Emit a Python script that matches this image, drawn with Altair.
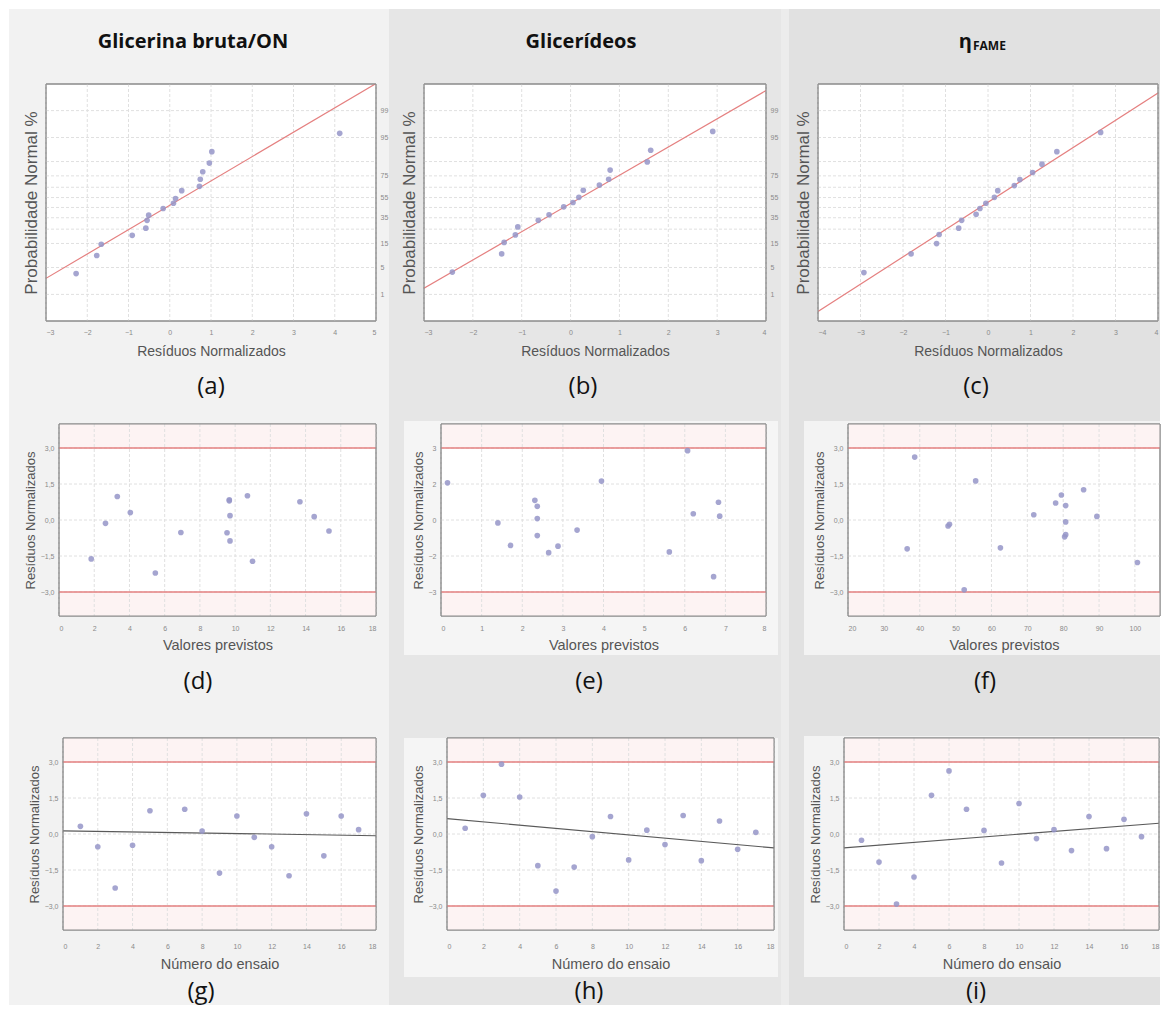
import altair as alt
import pandas as pd
from statistics import NormalDist

# ---------------- data ----------------
# Row 1: normal probability plots (residual, normal probability %)
a_res = [-2.27, -1.77, -1.66, -0.91, -0.58, -0.55, -0.51, -0.16, 0.09, 0.14, 0.29, 0.72, 0.74, 0.80, 0.96, 1.02, 4.12]
a_prob = [3.6, 9.0, 14.5, 20.3, 25.8, 32.6, 37.4, 44.0, 49.2, 54.0, 61.8, 65.9, 72.2, 78.2, 84.1, 90.1, 96.0]
a_line_res = [-3, 5]
a_line_prob = [2.74, 99.87]

b_res = [-2.42, -1.41, -1.36, -1.13, -1.08, -0.66, -0.44, -0.14, 0.05, 0.17, 0.26, 0.59, 0.78, 0.81, 1.57, 1.64, 2.91]
b_prob = [3.9, 9.7, 15.6, 20.6, 26.8, 32.6, 37.8, 45.6, 50.0, 55.2, 62.2, 67.0, 72.2, 79.4, 84.8, 90.7, 96.4]
b_line_res = [-3, 4]
b_line_prob = [1.5, 99.77]

c_res = [-2.92, -1.81, -1.21, -1.15, -0.69, -0.62, -0.28, -0.19, -0.05, 0.15, 0.23, 0.62, 0.75, 1.05, 1.27, 1.62, 2.65]
c_prob = [3.8, 9.7, 14.9, 20.9, 25.8, 32.6, 38.2, 44.0, 49.2, 55.2, 61.8, 66.6, 71.9, 77.6, 83.4, 90.1, 96.2]
c_line_res = [-4, 4]
c_line_prob = [0.29, 99.72]

# Row 2: residuals vs predicted values
d_pred = [1.83, 2.64, 3.31, 4.05, 5.47, 6.92, 9.67, 9.67, 9.71, 9.54, 9.71, 10.70, 10.99, 13.68, 14.49, 15.33]
d_res = [-1.62, -0.14, 0.98, 0.31, -2.21, -0.52, 0.84, 0.80, 0.18, -0.53, -0.87, 1.01, -1.72, 0.76, 0.14, -0.46]

e_pred = [0.16, 1.40, 1.71, 2.31, 2.37, 2.37, 2.37, 2.65, 2.88, 3.35, 3.95, 5.62, 6.07, 6.21, 6.71, 6.83, 6.86]
e_res = [1.55, -0.12, -1.06, 0.82, 0.57, 0.06, -0.65, -1.36, -1.09, -0.42, 1.62, -1.33, 2.89, 0.26, -2.36, 0.74, 0.16]

f_pred = [36.5, 38.6, 47.9, 48.3, 52.4, 55.6, 62.5, 71.8, 77.9, 79.5, 80.7, 80.7, 80.7, 80.4, 85.7, 89.4, 100.7]
f_res = [-1.20, 2.62, -0.25, -0.18, -2.91, 1.63, -1.16, 0.22, 0.71, 1.04, 0.60, -0.08, -0.61, -0.70, 1.26, 0.15, -1.77]

# Row 3: residuals vs run number
g_run = [1, 2, 3, 4, 5, 7, 8, 9, 10, 11, 12, 13, 14, 15, 16, 17]
g_res = [0.32, -0.53, -2.25, -0.47, 0.97, 1.03, 0.12, -1.63, 0.75, -0.14, -0.53, -1.74, 0.84, -0.91, 0.75, 0.18]
g_trend_run = [0, 18]
g_trend = [0.13, -0.07]

h_run = [1, 2, 3, 4, 5, 6, 7, 8, 9, 10, 11, 12, 13, 14, 15, 16, 17]
h_res = [0.24, 1.61, 2.91, 1.54, -1.32, -2.38, -1.38, -0.11, 0.73, -1.08, 0.16, -0.44, 0.77, -1.11, 0.54, -0.64, 0.07]
h_trend_run = [0, 18]
h_trend = [0.64, -0.58]

i_run = [1, 2, 3, 4, 5, 6, 7, 8, 9, 10, 11, 12, 13, 14, 15, 16, 17]
i_res = [-0.26, -1.17, -2.92, -1.79, 1.61, 2.63, 1.03, 0.15, -1.21, 1.27, -0.19, 0.18, -0.69, 0.73, -0.61, 0.61, -0.11]
i_trend_run = [0, 18]
i_trend = [-0.58, 0.45]

col_titles = ["Glicerina bruta/ON", "Glicerídeos"]
panel_labels = ["(a)", "(b)", "(c)", "(d)", "(e)", "(f)", "(g)", "(h)", "(i)"]
prob_label_pcts = [1, 5, 15, 35, 55, 75, 95, 99]
prob_grid_pcts = [1, 5, 15, 25, 35, 45, 55, 65, 75, 85, 95, 99]
resid_ticks = [-3, -1.5, 0, 1.5, 3]
limit_lines = [3, -3]

# ---------------- styling ----------------
FONT = "Liberation Sans"
HFONT = "Open Sans"
RED = "#e58080"
PT = "#9595c8"
GRID = "#e0e0e0"
FRAMEC = "#8a8a8a"
PSIZE = 32
nd = NormalDist()
label_z = [nd.inv_cdf(p / 100) for p in prob_label_pcts]
grid_z = [nd.inv_cdf(p / 100) for p in prob_grid_pcts]
ONE = pd.DataFrame({"v": [0]})


def blank(w, h):
    return alt.Chart(ONE).mark_point(opacity=0, size=1).encode(
        x=alt.value(0), y=alt.value(0)).properties(width=w, height=h)


def border(x0, W, h, fill):
    return alt.Chart(ONE).mark_rect(fill=fill, stroke=FRAMEC, strokeWidth=1).encode(
        x=alt.value(x0), x2=alt.value(W), y=alt.value(0), y2=alt.value(h))


def prob_panel(res, prob, lres, lprob, xdom, w, h, show_right):
    xt = list(range(xdom[0], xdom[1] + 1))
    xsc = alt.Scale(domain=xdom, range=[0, w], nice=False, zero=False)
    ysc = alt.Scale(domain=[-3, 3], nice=False, zero=False)
    xax = alt.Axis(values=xt, title="Resíduos Normalizados", labelFontSize=7, labelPadding=7,
                   titlePadding=9, titleFontSize=14, labelFlush=True, grid=False)
    left = alt.Axis(orient="left", values=grid_z, labels=False, title="Probabilidade Normal %",
                    titleFontSize=17, titlePadding=6, grid=False)
    right = alt.Axis(orient="right", values=label_z, grid=False, title=None, labelFontSize=7,
                     labelPadding=4, labelExpr="format(cumulativeNormal(datum.value) * 100, '.0f')")
    pts = pd.DataFrame({"res": res, "prob": prob})
    ln = pd.DataFrame({"res": lres, "prob": lprob})
    vg = alt.Chart(pd.DataFrame({"res": xt})).mark_rule(color=GRID, strokeDash=[3, 2]).encode(
        x=alt.X("res:Q", scale=xsc, axis=xax), y=alt.value(0), y2=alt.value(h))
    hg = alt.Chart(pd.DataFrame({"z": grid_z})).mark_rule(color=GRID, strokeDash=[3, 2]).encode(
        y=alt.Y("z:Q", scale=ysc, axis=None), x=alt.value(0), x2=alt.value(w))
    l = alt.Chart(ln).transform_calculate(z="quantileNormal(datum.prob / 100)").mark_line(
        color=RED, strokeWidth=1.2, clip=True).encode(
        x=alt.X("res:Q", scale=xsc, axis=xax),
        y=alt.Y("z:Q", scale=ysc, axis=right if show_right else None))
    p = alt.Chart(pts).transform_calculate(z="quantileNormal(datum.prob / 100)").mark_circle(
        size=PSIZE, color=PT, opacity=0.85).encode(
        x=alt.X("res:Q", scale=xsc, axis=xax), y=alt.Y("z:Q", scale=ysc, axis=left))
    layers = [border(0, w, h, "white"), vg, hg, l, p, border(0, w, h, None)]
    return alt.layer(*layers).resolve_axis(y="independent").properties(width=w, height=h)


def resid_panel(xs, ys, xdom, xvals, xtitle, x0, pw, h, ylabel_expr, trend_x=None, trend_y=None,
                lab_pad=8, title_pad=7):
    W = x0 + pw
    xsc = alt.Scale(domain=xdom, range=[x0, W], nice=False, zero=False)
    ysc = alt.Scale(domain=[-4, 4], nice=False, zero=False)
    xax = alt.Axis(values=xvals, title=xtitle, labelFontSize=7, labelPadding=lab_pad,
                   titlePadding=title_pad, titleFontSize=14.5, grid=False)
    yax = alt.Axis(values=resid_ticks, labelExpr=ylabel_expr, title="Resíduos Normalizados",
                   labelFontSize=7, labelPadding=5, titleFontSize=13, titlePadding=3,
                   grid=False, offset=-x0)

    def X(f):
        return alt.X(f, scale=xsc, axis=xax)

    def Y(f):
        return alt.Y(f, scale=ysc, axis=yax)

    bands = alt.Chart(pd.DataFrame({"y": [3, -4], "y2": [4, -3]})).mark_rect(color="#fdf3f3").encode(
        x=alt.value(x0 + 1), x2=alt.value(W), y=Y("y:Q"), y2="y2:Q")
    vg = alt.Chart(pd.DataFrame({"x": xvals})).mark_rule(color=GRID, strokeDash=[3, 2]).encode(
        x=X("x:Q"), y=alt.value(0), y2=alt.value(h))
    hg = alt.Chart(pd.DataFrame({"y": resid_ticks})).mark_rule(color=GRID, strokeDash=[3, 2]).encode(
        y=Y("y:Q"), x=alt.value(x0), x2=alt.value(W))
    rules = alt.Chart(pd.DataFrame({"y": limit_lines})).mark_rule(color=RED, strokeWidth=1.3).encode(
        y=Y("y:Q"), x=alt.value(x0), x2=alt.value(W))
    layers = [border(x0, W, h, "white"), bands, vg, hg, rules]
    if trend_x is not None:
        layers.append(alt.Chart(pd.DataFrame({"x": trend_x, "y": trend_y})).mark_line(
            color="#5a5a5a", strokeWidth=1.1, clip=True).encode(x=X("x:Q"), y=Y("y:Q")))
    layers.append(alt.Chart(pd.DataFrame({"x": xs, "y": ys})).mark_circle(
        size=PSIZE, color=PT, opacity=0.85).encode(x=X("x:Q"), y=Y("y:Q")))
    layers.append(border(x0, W, h, None))
    return alt.layer(*layers).properties(width=W, height=h)


COMMA = "replace(format(datum.value, '.1f'), '.', ',')"
INT = "format(datum.value, '.0f')"

# ---------------- background / annotation view ----------------
RIGHT = 1151
BOTTOM = 996
bg = pd.DataFrame({
    "x": [0, 380, 772, 780, 395, 795, 395, 795],
    "x2": [380, 772, 780, RIGHT, 769, RIGHT, 769, RIGHT],
    "y": [0, 0, 0, 0, 412, 412, 729, 727],
    "y2": [BOTTOM, BOTTOM, BOTTOM, BOTTOM, 646, 646, 968, 968],
    "c": ["#f2f2f2", "#e6e6e6", "#ececec", "#e1e1e1", "#f5f5f5", "#f3f3f3", "#f5f5f5", "#f3f3f3"],
})
heads = pd.DataFrame({"t": col_titles, "x": [184, 572], "y": [33, 33]})
labs = pd.DataFrame({"t": panel_labels,
                     "x": [202, 574, 967, 189, 580, 976, 192, 580, 967],
                     "y": [378, 378, 378, 673, 673, 673, 983, 983, 983]})
PX = dict(scale=None, axis=None)
bg_layer = alt.Chart(bg).mark_rect().encode(
    x=alt.X("x:Q", **PX), x2="x2:Q", y=alt.Y("y:Q", **PX), y2="y2:Q", fill=alt.Fill("c:N", scale=None))
head_layer = alt.Chart(heads).mark_text(font=HFONT, fontSize=20, fontWeight="bold", color="#111").encode(
    x=alt.X("x:Q", **PX), y=alt.Y("y:Q", **PX), text="t:N")
eta_layer = alt.Chart(pd.DataFrame({"t": ["η"], "x": [963], "y": [33]})).mark_text(
    font=HFONT, fontSize=20, fontWeight="bold", align="right", color="#111").encode(
    x=alt.X("x:Q", **PX), y=alt.Y("y:Q", **PX), text="t:N")
fame_layer = alt.Chart(pd.DataFrame({"t": ["FAME"], "x": [964], "y": [37]})).mark_text(
    font=HFONT, fontSize=12, fontWeight="bold", align="left", color="#111").encode(
    x=alt.X("x:Q", **PX), y=alt.Y("y:Q", **PX), text="t:N")
lab_layer = alt.Chart(labs).mark_text(font=HFONT, fontSize=24, color="#111").encode(
    x=alt.X("x:Q", **PX), y=alt.Y("y:Q", **PX), text="t:N")
bgview = alt.layer(bg_layer, head_layer, eta_layer, fame_layer, lab_layer).properties(width=37, height=75)

# ---------------- panels ----------------
A = prob_panel(a_res, a_prob, a_line_res, a_line_prob, [-3, 5], 330, 237, True)
B = prob_panel(b_res, b_prob, b_line_res, b_line_prob, [-3, 4], 342, 237, True)
C = prob_panel(c_res, c_prob, c_line_res, c_line_prob, [-4, 4], 340, 237, False)

D = resid_panel(d_pred, d_res, [0, 18], list(range(0, 19, 2)), "Valores previstos", 13, 317, 192, COMMA)
E = resid_panel(e_pred, e_res, [0, 8], list(range(0, 9)), "Valores previstos", 17, 325, 192, INT)
F = resid_panel(f_pred, f_res, [20, 107], list(range(20, 101, 10)), "Valores previstos", 30, 312, 192, COMMA)

G = resid_panel(g_run, g_res, [0, 18], list(range(0, 19, 2)), "Número do ensaio", 17, 313, 192, COMMA,
                g_trend_run, g_trend, lab_pad=12, title_pad=8)
H = resid_panel(h_run, h_res, [0, 18], list(range(0, 19, 2)), "Número do ensaio", 23, 327, 192, COMMA,
                h_trend_run, h_trend, lab_pad=12, title_pad=8)
I = resid_panel(i_run, i_res, [0, 18], list(range(0, 19, 2)), "Número do ensaio", 26, 315, 192, COMMA,
                i_trend_run, i_trend, lab_pad=12, title_pad=8)

rows = [
    [bgview, blank(1, 75), blank(1, 75), blank(1, 75), blank(1, 75), blank(1, 75)],
    [blank(37, 237), A, blank(48, 237), B, blank(44, 237), C],
    [blank(1, 103) for _ in range(6)],
    [blank(1, 192), D, blank(1, 192), E, blank(1, 192), F],
    [blank(1, 122) for _ in range(6)],
    [blank(1, 192), G, blank(1, 192), H, blank(1, 192), I],
]
views = [v for r in rows for v in r]

chart = alt.concat(*views, columns=6, spacing=0, bounds="flush").properties(
    padding=0, background="white"
).configure_view(strokeWidth=0).configure_axis(
    labelFont=FONT, titleFont=FONT, labelColor="#8a8a8a", titleColor="#555555",
    titleFontWeight="normal", domain=False, ticks=False
)

chart.save("out.html", embed_options={"renderer": "svg", "actions": False})
